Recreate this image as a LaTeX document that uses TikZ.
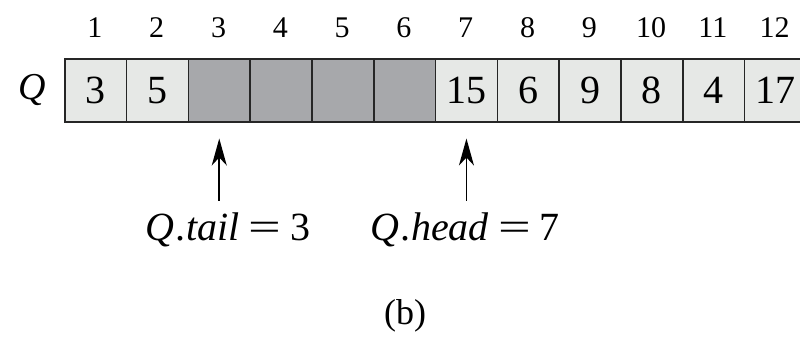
\documentclass[tikz,border=0pt]{standalone}
\usepackage{fontspec}
\usepackage{graphicx}
\setmainfont{Liberation Serif}
\usetikzlibrary{arrows.meta}
\definecolor{lightcell}{HTML}{E6E8E6}
\definecolor{darkcell}{HTML}{A7A8AB}
\newcommand{\wideeq}{\kern9pt\scalebox{1.45}[1]{=}\kern9pt}
\begin{document}
\begin{tikzpicture}[x=1pt,y=-1pt,
  cellbox/.style={draw=black!85, line width=1.5pt, minimum width=61.8pt, minimum height=63pt, inner sep=0pt, anchor=north west, font=\fontsize{40}{40}\selectfont},
  full/.style={cellbox, fill=lightcell},
  empty/.style={cellbox, fill=darkcell},
  idx/.style={font=\fontsize{30}{30}\selectfont, inner sep=0pt},
  lbl/.style={font=\fontsize{40}{40}\selectfont, inner sep=0pt, anchor=base},
  arr/.style={-{Stealth[length=27pt,width=15pt,inset=8pt]}, line width=1.6pt}]
\useasboundingbox (0,0) rectangle (800,338);
\clip (0,0) rectangle (800,338);
\foreach \i/\v/\s in {1/3/full,2/5/full,3//empty,4//empty,5//empty,6//empty,7/15/full,8/6/full,9/9/full,10/8/full,11/4/full,12/17/full}{
  \node[\s] (c\i) at ({64+(\i-1)*61.8},58) {\raisebox{-0.5pt}{\v}};
  \node[idx] (n\i) at ({64+(\i-0.5)*61.8},28) {\i};
}
\node[font=\fontsize{38}{38}\selectfont\itshape, inner sep=0pt] (q) at (32,90) {Q};
\node[lbl] (tail) at (228,240) {\textit{Q}\kern1pt.\kern1pt\textit{tail}\wideeq3};
\node[lbl] (head) at (465,240) {\textit{Q}\kern1pt.\kern1pt\textit{head}\wideeq7};
\draw[arr] ([yshift=-78pt]c3.south) -- ([yshift=-16pt]c3.south);
\draw[arr] ([yshift=-78pt]c7.south) -- ([yshift=-16pt]c7.south);
\node[font=\fontsize{36}{36}\selectfont, inner sep=0pt] (cap) at (405,316) {(b)};
\end{tikzpicture}
\end{document}
